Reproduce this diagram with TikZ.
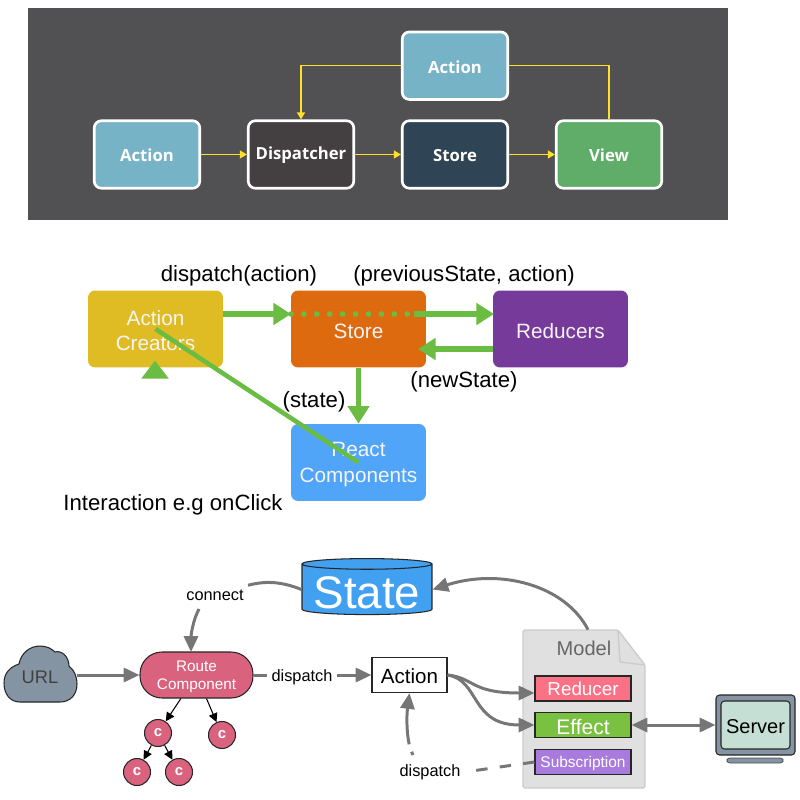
\documentclass[tikz,border=0pt]{standalone}
\usepackage{fontspec}
\setmainfont{Liberation Sans}
\newfontfamily\panelfont{Open Sans}
\usetikzlibrary{arrows.meta,positioning,shapes.geometric}
\definecolor{panelgray}{RGB}{81,80,82}
\definecolor{fluxblue}{RGB}{119,179,199}
\definecolor{fluxdark}{RGB}{68,63,64}
\definecolor{fluxnavy}{RGB}{47,68,84}
\definecolor{fluxgreen}{RGB}{96,173,106}
\definecolor{fluxyellow}{RGB}{255,224,40}
\definecolor{reduxyellow}{RGB}{223,188,35}
\definecolor{reduxorange}{RGB}{222,106,16}
\definecolor{reduxpurple}{RGB}{118,58,154}
\definecolor{reduxblue}{RGB}{81,165,249}
\definecolor{reduxgreen}{RGB}{107,188,66}
\definecolor{dvablue}{RGB}{66,160,240}
\definecolor{dvapink}{RGB}{217,98,127}
\definecolor{dvared}{RGB}{251,113,133}
\definecolor{dvagreen}{RGB}{122,193,66}
\definecolor{dvapurple}{RGB}{169,123,222}
\definecolor{dvaslate}{RGB}{133,148,163}
\definecolor{dvagray}{RGB}{118,118,118}
\definecolor{dvapaper}{RGB}{224,224,224}
\definecolor{dvascreen}{RGB}{197,223,212}
\newcommand\dn[2][1.1pt]{\raisebox{-#1}[\height][\depth]{#2}}
\begin{document}
\begin{tikzpicture}[
      x=0.02cm, y=-0.02cm,
      fluxbox/.style={draw=white, line width=1.5pt, rounded corners=4pt, minimum width=2.11cm,
                  minimum height=1.35cm, inner sep=0pt, text=white,
                  font=\panelfont\fontsize{9.5}{12}\selectfont\bfseries},
      fluxarr/.style={-{Triangle[length=4pt,width=4.5pt]}, fluxyellow, line width=0.9pt},
      fluxline/.style={fluxyellow, line width=0.9pt},
      reduxbox/.style={rounded corners=4pt, minimum width=2.7cm, minimum height=1.54cm,
                  inner sep=0pt, text=white!92!gray, align=center,
                  font=\fontsize{11.8}{14.4}\selectfont},
      reduxarr/.style={-{Triangle[length=10pt,width=12pt]}, reduxgreen, line width=3.2pt},
      reduxlabel/.style={font=\fontsize{12.6}{15}\selectfont, inner sep=0pt},
      dvaarr/.style={-{Triangle[length=9pt,width=8pt]}, dvagray, line width=1.7pt},
      dvaline/.style={dvagray, line width=1.7pt},
      dvabox/.style={draw=black!85, line width=0.6pt, minimum width=1.92cm, minimum height=0.5cm,
                  inner sep=0pt, text=white},
      dvac/.style={circle, draw=black!85, fill=dvapink, line width=0.6pt, minimum size=0.54cm,
                  inner sep=0pt, text=white, font=\fontsize{8.5}{10}\selectfont\bfseries},
      dvalabel/.style={font=\fontsize{9.3}{11}\selectfont, inner sep=0pt, outer sep=2.5pt},
      tinyarr/.style={-{Triangle[length=5pt,width=5pt]}, black, line width=0.6pt}
    ]
      \useasboundingbox (0,0) rectangle (800,800);
      \fill[panelgray] (28,8) rectangle (728,220);
      \node[fluxbox, fill=fluxblue] (action) at (147,154.5) {\dn[0.6pt]{Action}};
      \node[fluxbox, fill=fluxdark] (dispatcher) at (301,154.5) {\dn[0.6pt]{Dispatcher}};
      \node[fluxbox, fill=fluxnavy] (store) at (455,154.5) {\dn[0.6pt]{Store}};
      \node[fluxbox, fill=fluxgreen] (view) at (609,154.5) {\dn[0.6pt]{View}};
      \node[fluxbox, fill=fluxblue] (topaction) at (455,65.7) {\dn[0.6pt]{Action}};

      \draw[fluxarr] (action) -- (dispatcher);
      \draw[fluxarr] (dispatcher) -- (store);
      \draw[fluxarr] (store) -- (view);
      \draw[fluxline] (view) |- (topaction);
      \draw[fluxarr] (topaction) -| (dispatcher);

      \node[reduxbox, fill=reduxyellow] (creators) at (155.5,329) {\dn{Action}\\\dn{Creators}};
      \node[reduxbox, fill=reduxorange] (rstore) at (358.5,329) {\dn{Store}};
      \node[reduxbox, fill=reduxpurple] (reducers) at (560.5,329) {\dn{Reducers}};
      \node[reduxbox, fill=reduxblue] (react) at (358.5,462.5) {\dn{React}\\\dn{Components}};
      \coordinate (storein) at (291,314);
      \coordinate (storeout) at (414,314);
      \coordinate (reducerin) at (494,314);
      \coordinate (reducerout) at (493,349);
      \coordinate (storeback) at (418,349);
      \coordinate (creatorsout) at (223,314);
      \coordinate (trianglebase) at (155,379);

      \draw[reduxarr] (creatorsout) -- (storein);
      \draw[reduxgreen, line width=3.2pt, line cap=round, dash pattern=on 0pt off 7.35pt] (storein) -- (storeout);
      \draw[reduxarr] (storeout) -- (reducerin);
      \draw[reduxarr] (reducerout) -- (storeback);
      \draw[reduxarr] (rstore) -- (react);
      \draw[reduxgreen, line width=2.6pt] (creators.center) -- (react.center);
      \node[isosceles triangle, isosceles triangle apex angle=75, shape border rotate=90, fill=reduxgreen,
            minimum height=0.36cm, minimum width=0.42cm, inner sep=0pt, anchor=south] (tip) at (trianglebase) {};

      \node[reduxlabel] (dispatchlabel) at (239,276) {dispatch(action)};
      \node[reduxlabel] (prevlabel) at (464,276) {(previousState, action)};
      \node[reduxlabel] (newlabel) at (464,382) {(newState)};
      \node[reduxlabel] (statelabel) at (314,402) {(state)};
      \node[reduxlabel] (clicklabel) at (173,505) {Interaction e.g onClick};

      \node[cylinder, shape border rotate=90, aspect=0.1, draw=black!85, line width=0.6pt,
            cylinder uses custom fill, cylinder body fill=dvablue, cylinder end fill=dvablue,
            minimum width=2.6cm, minimum height=1.12cm, inner sep=0pt, text=white,
            font=\fontsize{26}{30}\selectfont] (state) at (367,589.5) {\dn[2pt]{State}};

      \filldraw[fill=dvaslate, draw=black!85, line width=0.6pt]
        (20,702) .. controls (10,702) and (4,694) .. (4,683)
        .. controls (4,673) and (10,667) .. (19,664)
        .. controls (21,653) and (30,646) .. (40,646)
        .. controls (47,646) and (52,649) .. (55,652)
        .. controls (62,650) and (69,657) .. (69,666)
        .. controls (74,670) and (77,676) .. (77,684)
        .. controls (77,695) and (70,702) .. (60,702) -- cycle;
      \node[minimum width=1.46cm, minimum height=1.12cm, inner sep=0pt, text=black!75,
            font=\fontsize{10.4}{12}\selectfont] (url) at (40,675) {\dn{URL}};

      \node[draw=black!85, fill=dvapink, line width=0.6pt, rounded corners=0.44cm, minimum width=2.26cm,
            minimum height=0.92cm, inner sep=0pt, text=white, align=center,
            font=\fontsize{8.7}{10.4}\selectfont] (route) at (196.5,675) {\dn{Route}\\\dn{Component}};
      \node[dvac] (ca) at (158,733) {c};
      \node[dvac] (cb) at (222,735) {c};
      \node[dvac] (cc) at (137,772) {c};
      \node[dvac] (cd) at (179,772) {c};

      \node[draw=black!85, fill=white, line width=0.6pt, minimum width=1.5cm, minimum height=0.7cm,
            inner sep=0pt, font=\fontsize{11.7}{14}\selectfont] (dvaaction) at (409.5,675) {\dn[0.7pt]{Action}};

      \filldraw[fill=dvapaper, draw=black!20, line width=0.8pt, rounded corners=1pt]
        (523,630) -- (618,630) -- (645,665) -- (645,788) -- (523,788) -- cycle;
      \draw[black!20, line width=0.8pt] (618,630) -- (620,662) -- (645,665);
      \node[inner sep=0pt, minimum width=2.44cm, minimum height=3.16cm] (model) at (584,709) {};
      \node[inner sep=0pt, text=black!60, font=\fontsize{11.4}{14}\selectfont] (modellabel) at (584,648) {Model};
      \node[dvabox, fill=dvared, font=\fontsize{10.7}{13}\selectfont] (reducer) at (583,688.5) {\dn[0.2pt]{Reducer}};
      \node[dvabox, fill=dvagreen, font=\fontsize{12}{14}\selectfont] (effect) at (583,725) {\dn{Effect}};
      \node[dvabox, fill=dvapurple, font=\fontsize{8.8}{11}\selectfont] (subscription) at (583,762) {\dn{Subscription}};

      \node[draw=black!85, fill=dvaslate, line width=0.6pt, rounded corners=2pt, minimum width=1.58cm,
            minimum height=1.2cm, inner sep=0pt] (monitor) at (755.5,725) {};
      \node[draw=black!85, fill=dvascreen, line width=0.6pt, rounded corners=2pt, minimum width=1.38cm,
            minimum height=0.96cm, inner sep=0pt, font=\fontsize{11.4}{14}\selectfont] (server) at (755.5,725) {\dn{Server}};
      \node[draw=black!70, fill=dvaslate, line width=0.4pt, rounded corners=1.5pt, minimum width=1.12cm,
            minimum height=0.1cm, inner sep=0pt] (stand) at (755,760.5) {};

      \node[dvalabel] (connect) at (215,595) {connect};
      \node[dvalabel] (dispatch) at (302,675) {\dn{dispatch}};
      \node[dvalabel] (subdispatch) at (430,772) {dispatch};
      \coordinate (connectfoot) at (199,609);
      \coordinate (routetop) at (191,652);
      \coordinate (dispatchfoot) at (413,755);

      \draw[dvaline] (state.west) .. controls (280,581) and (265,581) .. (connect.north east);
      \draw[dvaarr] (connectfoot) .. controls (193,620) and (191,635) .. (routetop);
      \draw[dvaarr] ([xshift=0.08cm]model.north) .. controls (565,585) and (500,568) .. (state.east);
      \draw[dvaarr] (url.east) -- (route.west);
      \draw[dvaline] (route.east) -- (dispatch.west);
      \draw[dvaarr] (dispatch.east) -- (dvaaction.west);
      \draw[dvaarr] (dvaaction.east) .. controls (475,678) and (470,693) .. ([yshift=-0.09cm]reducer.west);
      \draw[dvaarr] (dvaaction.east) .. controls (480,680) and (470,725) .. (effect.west);
      \draw[dvaarr, {Triangle[length=9pt,width=8pt]}-{Triangle[length=9pt,width=8pt]}] (effect.east) -- (monitor.west);
      \draw[dvaline, dash pattern=on 6.5pt off 7pt] (subscription.west) -- (subdispatch.east);
      \draw[dvaarr, dash pattern=on 2pt off 4.5pt on 40pt off 0pt] (dispatchfoot) .. controls (407,745) and (406,720) .. (dvaaction.south);
      \draw[tinyarr] (route) -- (ca);
      \draw[tinyarr] (route) -- (cb);
      \draw[tinyarr] (ca) -- (cc);
      \draw[tinyarr] (ca) -- (cd);
    \end{tikzpicture}
\end{document}
